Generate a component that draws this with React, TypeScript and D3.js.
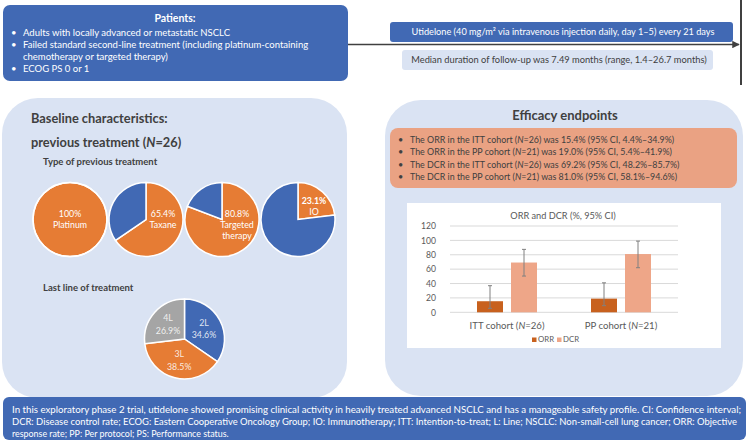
import React from 'react';
import * as d3 from 'd3';

const W = 749;
const H = 443;
const FONT = 'Lato, "Open Sans", sans-serif';

// ---------- data ----------
const patientsTitle = 'Patients:';
const patientBullets: string[][] = [
  ['Adults with locally advanced or metastatic NSCLC'],
  ['Failed standard second-line treatment (including platinum-containing', 'chemotherapy or targeted therapy)'],
  ['ECOG PS 0 or 1'],
];
const treatmentText = 'Utidelone (40 mg/m² via intravenous injection daily, day 1–5) every 21 days';
const followUpText = 'Median duration of follow-up was 7.49 months (range, 1.4–26.7 months)';

const baselineTitle1 = 'Baseline characteristics:';
const baselineTitle2 = 'previous treatment (N=26)';
const prevTreatTitle = 'Type of previous treatment';
const prevTreatLabels: string[][] = [['Platinum'], ['Taxane'], ['Targeted', 'therapy'], ['IO']];
const prevTreatPct = [100, 65.4, 80.8, 23.1];

const lastLineTitle = 'Last line of treatment';
const lastLineLabels = ['2L', '3L', '4L'];
const lastLinePct = [34.6, 38.5, 26.9];

const efficacyTitle = 'Efficacy endpoints';
const efficacyBullets = [
  'The ORR in the ITT cohort (N=26) was 15.4% (95% CI, 4.4%–34.9%)',
  'The ORR in the PP cohort (N=21) was 19.0% (95% CI, 5.4%–41.9%)',
  'The DCR in the ITT cohort (N=26) was 69.2% (95% CI, 48.2%–85.7%)',
  'The DCR in the PP cohort (N=21) was 81.0% (95% CI, 58.1%–94.6%)',
];

const chartTitle = 'ORR and DCR (%, 95% CI)';
const cohorts = ['ITT cohort (N=26)', 'PP cohort (N=21)'];
const seriesNames = ['ORR', 'DCR'];
const orrValues = [15.4, 19.0];
const dcrValues = [69.2, 81.0];
const orrErrLow = [5.5, 9.2];
const orrErrHigh = [37, 41];
const dcrErrLow = [50.4, 62];
const dcrErrHigh = [87.5, 99];
const yTicks = [0, 20, 40, 60, 80, 100, 120];

const footerLines = [
  'In this exploratory phase 2 trial, utidelone showed promising clinical activity in heavily treated advanced NSCLC and has a manageable safety profile. CI: Confidence interval;',
  'DCR: Disease control rate; ECOG: Eastern Cooperative Oncology Group; IO: Immunotherapy; ITT: Intention-to-treat; L: Line; NSCLC: Non-small-cell lung cancer; ORR: Objective',
  'response rate; PP: Per protocol; PS: Performance status.',
];

// ---------- style ----------
const C = {
  blue: '#4169b4',
  orange: '#e67c34',
  gray: '#a5a5a5',
  panel: '#dae3f3',
  salmon: '#eaa283',
  dark: '#404040',
  axis: '#595959',
  grid: '#d9d9d9',
  orr: '#c8611e',
  dcr: '#eea688',
  err: '#808080',
};

// render "N=" with italic N
function rich(text: string) {
  const parts = text.split(/(N(?==))/);
  return parts.map((p, i) =>
    p === 'N' ? (
      <tspan key={i} fontStyle="italic">
        N
      </tspan>
    ) : (
      <tspan key={i}>{p}</tspan>
    )
  );
}

const pieColorsPrev = [C.orange, C.blue];
const lastLineColors = [C.blue, C.orange, C.gray];

export default function App() {
  // ----- previous treatment pies -----
  const prevR = 37;
  const prevX = d3.scalePoint<number>().domain(d3.range(prevTreatPct.length)).range([70, 298]);
  const prevY = 219.5;
  const pie = d3.pie<number>().sort(null).value((d) => d);
  const arcPrev = d3.arc<d3.PieArcDatum<number>>().innerRadius(0).outerRadius(prevR);
  const prevLabelOffsets = [
    { dx: 0, dy: -6 },
    { dx: 17, dy: -6 },
    { dx: 15, dy: -6 },
    { dx: 16, dy: -19 },
  ];

  // ----- last line pie -----
  const lastR = 40;
  const lastCx = 184.5;
  const lastCy = 339;
  const arcLast = d3.arc<d3.PieArcDatum<number>>().innerRadius(0).outerRadius(lastR);
  const arcLastLabel = d3.arc<d3.PieArcDatum<number>>().innerRadius(22).outerRadius(22);
  const lastArcs = pie(lastLinePct);

  // ----- bar chart -----
  const x0 = d3.scaleBand<string>().domain(cohorts).range([450, 678]).paddingInner(54 / 114).paddingOuter(27 / 114);
  const x1 = d3.scaleBand<string>().domain(seriesNames).range([0, x0.bandwidth()]).paddingInner(2 - 60 / 34);
  const y = d3.scaleLinear().domain([0, 120]).range([312.3, 226]);
  const seriesVals: Record<string, number[]> = { ORR: orrValues, DCR: dcrValues };
  const seriesLow: Record<string, number[]> = { ORR: orrErrLow, DCR: dcrErrLow };
  const seriesHigh: Record<string, number[]> = { ORR: orrErrHigh, DCR: dcrErrHigh };
  const seriesColor: Record<string, string> = { ORR: C.orr, DCR: C.dcr };

  return (
    <svg
      width={W}
      height={H}
      viewBox={`0 0 ${W} ${H}`}
      style={{ position: 'absolute', left: 0, top: 0, background: '#fff' }}
      fontFamily={FONT}
    >
      <defs>
        <marker id="arrow" viewBox="0 0 10 10" refX="9" refY="5" markerWidth="5" markerHeight="5" orient="auto">
          <path d="M0,0 L10,5 L0,10 z" fill={C.dark} />
        </marker>
      </defs>

      {/* timeline */}
      <line x1={348} y1={44.5} x2={739} y2={44.5} stroke={C.dark} strokeWidth={1.5} markerEnd="url(#arrow)" />
      <line x1={741} y1={0} x2={741} y2={85} stroke={C.dark} strokeWidth={2} />

      {/* patients box */}
      <rect x={3} y={5} width={345} height={76} rx={7} fill={C.blue} />
      <text x={175} y={21.5} textAnchor="middle" fill="#fff" fontSize={10.5} fontWeight="bold">
        {patientsTitle}
      </text>
      {(() => {
        let line = 0;
        const out: JSX.Element[] = [];
        patientBullets.forEach((b, bi) => {
          b.forEach((t, ti) => {
            const yy = 35.5 + line * 12.3;
            if (ti === 0)
              out.push(
                <text key={`b${bi}`} x={11} y={yy} fill="#fff" fontSize={9.5}>
                  •
                </text>
              );
            out.push(
              <text key={`t${bi}-${ti}`} x={23} y={yy} fill="#fff" fontSize={9.5}>
                {t}
              </text>
            );
            line++;
          });
        });
        return out;
      })()}

      {/* treatment boxes */}
      <rect x={390} y={22} width={343} height={20} rx={3} fill={C.blue} />
      <text x={563} y={35.3} textAnchor="middle" fill="#fff" fontSize={9.2}>
        {treatmentText}
      </text>
      <rect x={402} y={50} width={311} height={20} rx={3} fill={C.panel} />
      <text x={559} y={63.3} textAnchor="middle" fill={C.dark} fontSize={9.3}>
        {followUpText}
      </text>

      {/* left panel */}
      <rect x={2} y={98} width={345} height={300} rx={36} fill={C.panel} />
      <text x={31} y={122.5} fill={C.dark} fontSize={12.8} fontWeight="bold">
        {baselineTitle1}
      </text>
      <text x={31} y={146.5} fill={C.dark} fontSize={12.8} fontWeight="bold">
        {rich(baselineTitle2)}
      </text>
      <text x={43} y={164.5} fill={C.dark} fontSize={9.5} fontWeight="bold">
        {prevTreatTitle}
      </text>

      {prevTreatPct.map((p, i) => {
        const arcs = pie([p, 100 - p]);
        const cx = prevX(i) as number;
        const off = prevLabelOffsets[i];
        const lines = [`${p === 100 ? '100' : p.toFixed(1)}%`, ...prevTreatLabels[i]];
        return (
          <g key={i} transform={`translate(${cx},${prevY})`}>
            {arcs.map((a, j) =>
              a.value > 0 ? (
                <path key={j} d={arcPrev(a) as string} fill={pieColorsPrev[j]} stroke="#fff" strokeWidth={1.5} />
              ) : null
            )}
            {p === 100 && <circle r={prevR} fill="none" stroke="#fff" strokeWidth={1.5} />}
            {lines.map((t, k) => (
              <text
                key={k}
                x={off.dx}
                y={off.dy + 3.5 + k * 11}
                textAnchor="middle"
                fill="#fff"
                fontSize={8.8}
                fontWeight={i === 3 && k === 0 ? 'bold' : 'normal'}
              >
                {t}
              </text>
            ))}
          </g>
        );
      })}

      <text x={43} y={290.5} fill={C.dark} fontSize={9.5} fontWeight="bold">
        {lastLineTitle}
      </text>
      <g transform={`translate(${lastCx},${lastCy})`}>
        {lastArcs.map((a, j) => (
          <path key={j} d={arcLast(a) as string} fill={lastLineColors[j]} stroke="#fff" strokeWidth={1.5} />
        ))}
        {lastArcs.map((a, j) => {
          const [lx, ly] = arcLastLabel.centroid(a);
          return (
            <g key={`l${j}`}>
              <text x={lx} y={ly - 3} textAnchor="middle" fill="#fff" fontSize={8.8} fillOpacity={0.85}>
                {lastLineLabels[j]}
              </text>
              <text x={lx} y={ly + 9.5} textAnchor="middle" fill="#fff" fontSize={8.8} fillOpacity={0.85}>
                {`${lastLinePct[j].toFixed(1)}%`}
              </text>
            </g>
          );
        })}
      </g>

      {/* right panel */}
      <rect x={385} y={100} width={358} height={296} rx={36} fill={C.panel} />
      <text x={565} y={119.5} textAnchor="middle" fill={C.dark} fontSize={13} fontWeight="bold">
        {efficacyTitle}
      </text>
      <rect x={390} y={128} width={347} height={60} rx={8} fill={C.salmon} />
      {efficacyBullets.map((t, i) => (
        <g key={i}>
          <text x={398} y={142.5 + i * 12.6} fill={C.dark} fontSize={9}>
            •
          </text>
          <text x={410} y={142.5 + i * 12.6} fill={C.dark} fontSize={8.9}>
            {rich(t)}
          </text>
        </g>
      ))}

      {/* bar chart */}
      <rect x={407} y={203} width={314} height={145} fill="#fff" />
      <text x={563} y={218.5} textAnchor="middle" fill={C.axis} fontSize={9.2}>
        {chartTitle}
      </text>
      {yTicks.map((t) => (
        <g key={t}>
          <line x1={450} x2={678} y1={y(t)} y2={y(t)} stroke={C.grid} strokeWidth={1} />
          <text x={436} y={y(t) + 3.2} textAnchor="end" fill={C.axis} fontSize={8.6}>
            {t}
          </text>
        </g>
      ))}
      {cohorts.map((c, ci) => (
        <g key={c} transform={`translate(${x0(c)},0)`}>
          {seriesNames.map((s) => {
            const bx = x1(s) as number;
            const bw = x1.bandwidth();
            const v = seriesVals[s][ci];
            const mid = bx + bw / 2;
            return (
              <g key={s}>
                <rect x={bx} y={y(v)} width={bw} height={y(0) - y(v)} fill={seriesColor[s]} />
                <line x1={mid} x2={mid} y1={y(seriesLow[s][ci])} y2={y(seriesHigh[s][ci])} stroke={C.err} strokeWidth={1} />
                <line x1={mid - 2} x2={mid + 2} y1={y(seriesLow[s][ci])} y2={y(seriesLow[s][ci])} stroke={C.err} strokeWidth={1} />
                <line x1={mid - 2} x2={mid + 2} y1={y(seriesHigh[s][ci])} y2={y(seriesHigh[s][ci])} stroke={C.err} strokeWidth={1} />
              </g>
            );
          })}
          <text x={x0.bandwidth() / 2} y={328.5} textAnchor="middle" fill={C.axis} fontSize={9.6}>
            {rich(c)}
          </text>
        </g>
      ))}
      {seriesNames.map((s, i) => (
        <g key={s} transform={`translate(${532 + i * 25},337.5)`}>
          <rect x={0} y={0} width={4.5} height={4.5} fill={seriesColor[s]} />
          <text x={6} y={4.8} fill={C.axis} fontSize={7.8}>
            {s}
          </text>
        </g>
      ))}

      {/* footer */}
      <rect x={3} y={397} width={743} height={43} rx={6} fill={C.blue} />
      {footerLines.map((t, i) => (
        <text
          key={i}
          x={12}
          y={413}
          dy={i * 12}
          fill="#fff"
          fontSize={8.9}
          {...(i < 2 ? { textLength: i === 0 ? 729 : 725, lengthAdjust: 'spacingAndGlyphs' } : {})}
        >
          {t}
        </text>
      ))}
    </svg>
  );
}
